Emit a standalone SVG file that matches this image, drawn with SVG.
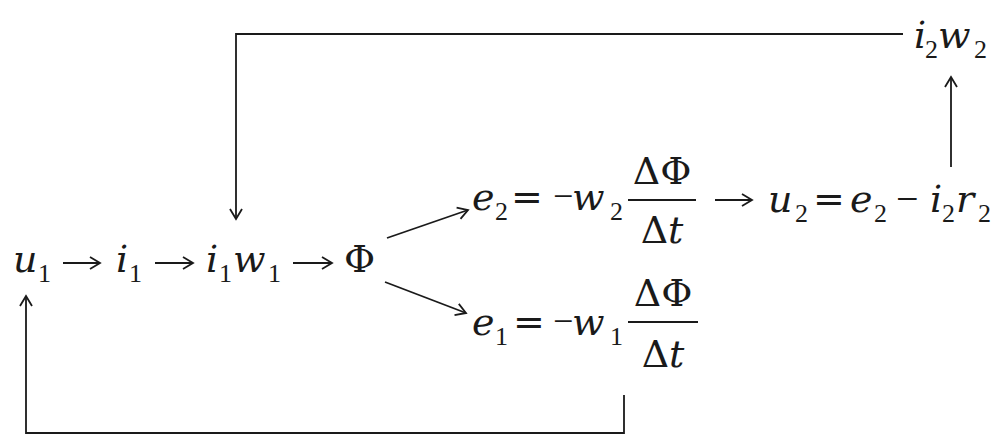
<svg xmlns="http://www.w3.org/2000/svg" width="995" height="435" viewBox="0 0 995 435">
<style>
text{font-family:"DejaVu Serif","Liberation Serif",serif;font-size:38px;fill:#1a1a1a}
.v{font-style:italic}
.m{font-family:"Liberation Serif","DejaVu Serif",serif;font-size:36px}
.s{font-family:"Liberation Serif","DejaVu Serif",serif;font-style:normal;font-size:26px}
.c{fill:none;stroke:#1a1a1a;stroke-width:1.8}
.bar{stroke:#1a1a1a;stroke-width:1.8}
</style>
<defs>
<marker id="ah" viewBox="-12 -8 14 16" refX="0" refY="0" markerWidth="14" markerHeight="16" markerUnits="userSpaceOnUse" orient="auto">
<path d="M-10,-6 L0,0 L-10,6" fill="none" stroke="#1a1a1a" stroke-width="1.8"/>
</marker>
</defs>
<rect width="995" height="435" fill="#fff"/>
<g id="connectors">
<line class="c" x1="63" y1="263" x2="100" y2="263" marker-end="url(#ah)"/>
<line class="c" x1="155" y1="263" x2="193" y2="263" marker-end="url(#ah)"/>
<line class="c" x1="293" y1="263" x2="332" y2="263" marker-end="url(#ah)"/>
<line class="c" x1="387" y1="238" x2="468" y2="210" marker-end="url(#ah)"/>
<line class="c" x1="385" y1="282" x2="466" y2="313" marker-end="url(#ah)"/>
<line class="c" x1="715" y1="200" x2="752" y2="200" marker-end="url(#ah)"/>
<line class="c" x1="951" y1="167" x2="951" y2="77" marker-end="url(#ah)"/>
<path class="c" d="M903,34 H236 V219" marker-end="url(#ah)"/>
<path class="c" d="M624,395 V433 H26 V296" marker-end="url(#ah)"/>
</g>
<g id="u1"><text x="13" y="272"><tspan class="v">u</tspan><tspan class="s" x="38" y="282">1</tspan></text></g>
<g id="i1"><text x="116" y="272"><tspan class="v">i</tspan><tspan class="s" x="129" y="282">1</tspan></text></g>
<g id="i1w1"><text x="206" y="272"><tspan class="v">i</tspan><tspan class="s" x="219" y="282">1</tspan><tspan class="v" x="233" y="272">w</tspan><tspan class="s" x="268" y="282">1</tspan></text></g>
<g id="phi"><text x="344" y="272">Φ</text></g>
<g id="e2">
<text x="472" y="210"><tspan class="v">e</tspan><tspan class="s" x="495" y="220">2</tspan><tspan x="511" y="210">=</tspan><tspan class="m" x="553" y="208">−</tspan><tspan class="v" x="572" y="210">w</tspan><tspan class="s" x="610" y="220">2</tspan></text>
<line class="bar" x1="628" y1="200" x2="696" y2="200"/>
<text x="662" y="184" text-anchor="middle">ΔΦ</text>
<text x="662" y="243" text-anchor="middle">Δ<tspan class="v">t</tspan></text>
</g>
<g id="u2">
<text x="768" y="212"><tspan class="v">u</tspan><tspan class="s" x="795" y="222">2</tspan><tspan x="813" y="212">=</tspan><tspan class="v" x="850" y="212">e</tspan><tspan class="s" x="874" y="222">2</tspan><tspan class="m" style="font-size:40px" x="896" y="212">−</tspan><tspan class="v" x="930" y="212">i</tspan><tspan class="s" x="942" y="222">2</tspan><tspan class="v" x="956" y="212">r</tspan><tspan class="s" x="978" y="222">2</tspan></text>
</g>
<g id="i2w2">
<text x="914" y="48"><tspan class="v">i</tspan><tspan class="s" x="925" y="58">2</tspan><tspan class="v" x="938" y="48">w</tspan><tspan class="s" x="974" y="58">2</tspan></text>
</g>
<g id="e1">
<text x="472" y="335"><tspan class="v">e</tspan><tspan class="s" x="495" y="345">1</tspan><tspan x="513" y="335">=</tspan><tspan class="m" x="553" y="333">−</tspan><tspan class="v" x="572" y="335">w</tspan><tspan class="s" x="610" y="345">1</tspan></text>
<line class="bar" x1="628" y1="322" x2="698" y2="322"/>
<text x="663" y="306" text-anchor="middle">ΔΦ</text>
<text x="663" y="367" text-anchor="middle">Δ<tspan class="v">t</tspan></text>
</g>
</svg>
